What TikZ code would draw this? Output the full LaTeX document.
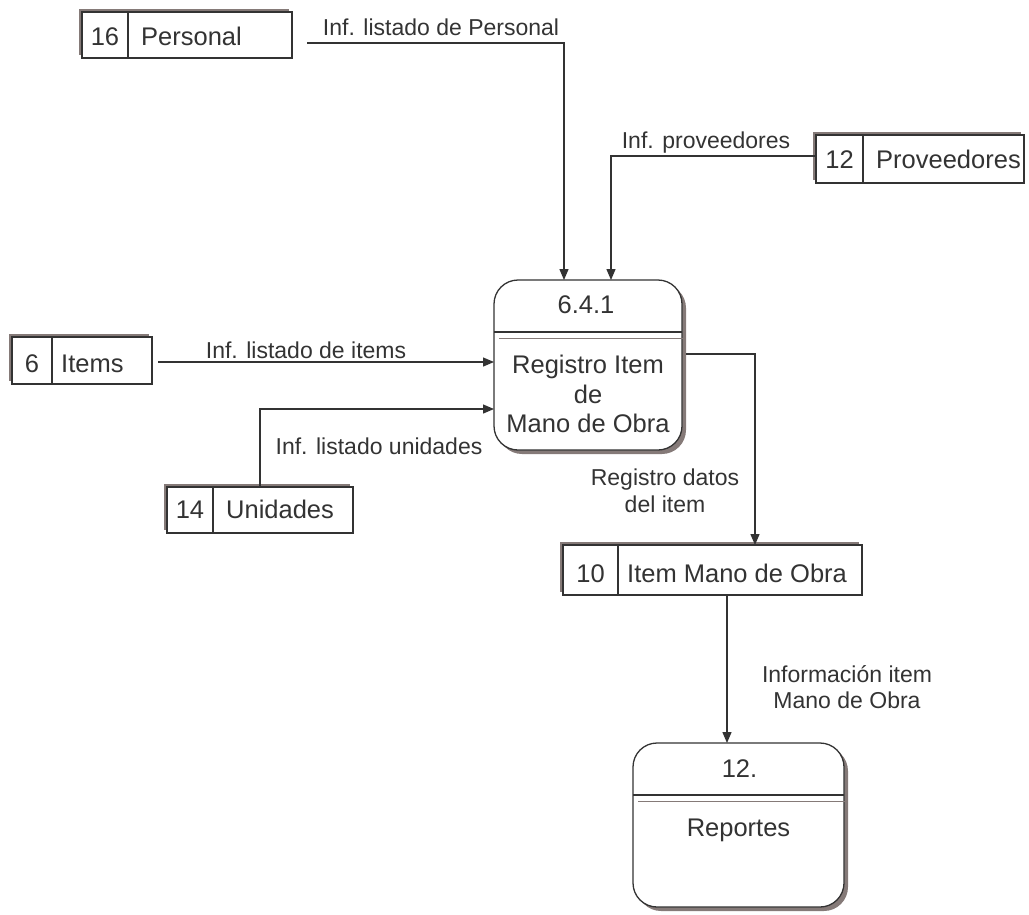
\documentclass[tikz,border=0pt]{standalone}
\usepackage{fontspec}
\setmainfont{Liberation Sans}
\usetikzlibrary{arrows.meta,shadows}
\definecolor{ink}{HTML}{333333}
\definecolor{shade}{HTML}{857A78}

\tikzset{
  store/.style={draw=ink, fill=white, line width=1.3pt, rectangle,
    inner sep=0pt, outer sep=0pt,
    general shadow={fill=shade, shadow xshift=-3pt, shadow yshift=3pt}},
  proc/.style={draw=ink, fill=white, line width=1.3pt, rectangle,
    rounded corners=24pt, inner sep=0pt, outer sep=0pt,
    general shadow={fill=shade, shadow xshift=4pt, shadow yshift=-4pt}},
  boxtext/.style={text=ink, inner sep=0pt, font=\fontsize{25.5}{30}\selectfont, anchor=base},
  boxtitle/.style={boxtext, anchor=base west},
  flowtext/.style={text=ink, inner sep=0pt, font=\fontsize{23}{27}\selectfont, anchor=base},
  divider/.style={draw=ink, line width=1.3pt},
  subline/.style={draw=shade, line width=1pt},
  flow/.style={draw=ink, line width=1.3pt, -{Triangle[length=11pt,width=9pt]}},
}

\begin{document}
\begin{tikzpicture}[x=1pt, y=-1pt]
\useasboundingbox (0,0) rectangle (1029,914);

% ---------- data stores ----------
\node[store, minimum width=210pt, minimum height=46pt] (personal) at (187,35) {};
\draw[divider] ([xshift=46pt]personal.north west) -- ([xshift=46pt]personal.south west);
\node[boxtext] (personal-no) at (105,45) {16};
\node[boxtitle] (personal-t) at (141,45) {Personal};

\node[store, minimum width=208pt, minimum height=48pt] (proveedores) at (920,159) {};
\draw[divider] ([xshift=47pt]proveedores.north west) -- ([xshift=47pt]proveedores.south west);
\node[boxtext] (proveedores-no) at (839.5,168) {12};
\node[boxtitle] (proveedores-t) at (876,168) {Proveedores};

\node[store, minimum width=140pt, minimum height=47pt] (items) at (82,360.5) {};
\draw[divider] ([xshift=40pt]items.north west) -- ([xshift=40pt]items.south west);
\node[boxtext] (items-no) at (32,372) {6};
\node[boxtitle] (items-t) at (61,372) {Items};

\node[store, minimum width=186pt, minimum height=46pt] (unidades) at (260,510) {};
\draw[divider] ([xshift=46pt]unidades.north west) -- ([xshift=46pt]unidades.south west);
\node[boxtext] (unidades-no) at (190,518) {14};
\node[boxtitle] (unidades-t) at (226,518) {Unidades};

\node[store, minimum width=299pt, minimum height=50pt] (imo) at (712.5,570) {};
\draw[divider] ([xshift=55pt]imo.north west) -- ([xshift=55pt]imo.south west);
\node[boxtext] (imo-no) at (590.5,582) {10};
\node[boxtitle] (imo-t) at (627,582) {Item Mano de Obra};

% ---------- processes ----------
\node[proc, minimum width=188pt, minimum height=170pt] (p641) at (588,365) {};
\draw[divider] (494,332) -- (682,332);
\draw[subline] (499,338) -- (686,338);
\node[boxtext] (p641-id) at (586,313) {6.4.1};
\node[boxtext] (p641-l1) at (588,373) {Registro Item};
\node[boxtext] (p641-l2) at (588,403) {de};
\node[boxtext] (p641-l3) at (588,432) {Mano de Obra};

\node[proc, minimum width=211pt, minimum height=164pt] (reportes) at (738.5,825) {};
\draw[divider] (633,795) -- (844,795);
\draw[subline] (638,801) -- (848,801);
\node[boxtext] (reportes-id) at (739.5,777) {12.};
\node[boxtext] (reportes-l1) at (738.5,836) {Reportes};

% ---------- data flows ----------
\draw[flow] ([xshift=15pt,yshift=-8pt]personal.east) -| ([xshift=-24pt]p641.north);
\node[flowtext] (f-personal) at (441,35) {Inf. listado de Personal};

\draw[flow] ([yshift=3pt]proveedores.west) -| ([xshift=23pt]p641.north);
\node[flowtext] (f-proveedores) at (706,148) {Inf. proveedores};

\draw[flow] ([xshift=6pt,yshift=-1.5pt]items.east) -- ([yshift=-1.5pt]items.east -| p641.west);
\node[flowtext] (f-items) at (306,358) {Inf. listado de items};

\draw[flow] (unidades.north) |- ([yshift=-44pt]p641.west);
\node[flowtext] (f-unidades) at (379,454) {Inf. listado unidades};

\draw[flow] ([xshift=4pt,yshift=11pt]p641.east) -| ([xshift=42.5pt]imo.north);
\node[flowtext] (f-registro1) at (665,485) {Registro datos};
\node[flowtext] (f-registro2) at (665,512) {del item};

\draw[flow] ([xshift=14.5pt]imo.south) -- ([xshift=14.5pt]imo.south |- reportes.north);
\node[flowtext] (f-info1) at (847,682) {Información item};
\node[flowtext] (f-info2) at (847,708) {Mano de Obra};
\end{tikzpicture}
\end{document}
